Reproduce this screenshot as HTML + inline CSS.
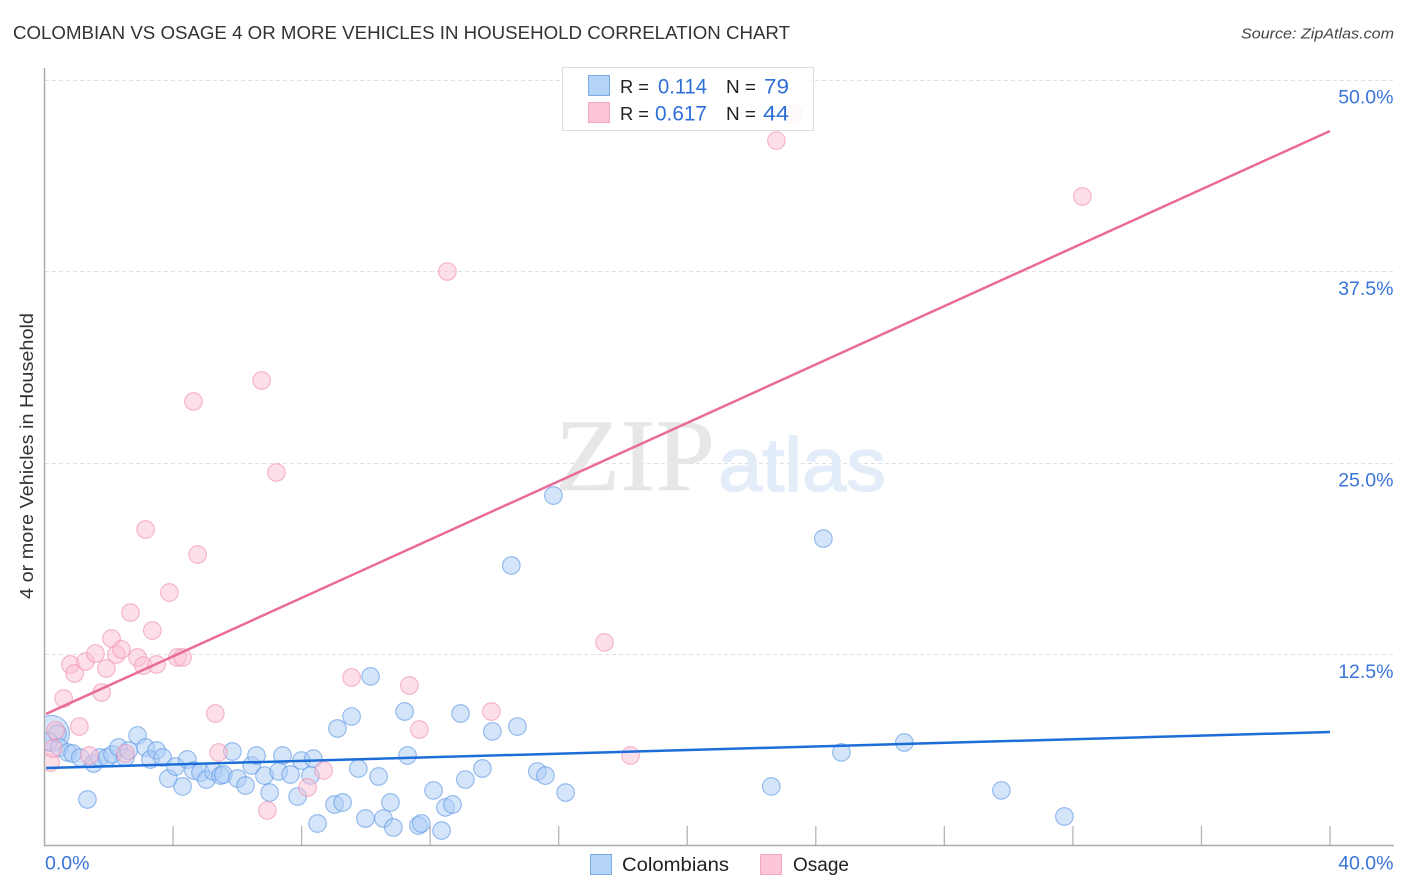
<!DOCTYPE html>
<html>
<head>
<meta charset="utf-8">
<title>Colombian vs Osage chart</title>
<style>
html,body{margin:0;padding:0;background:#fff;}
svg{display:block;font-family:"Liberation Sans",sans-serif;}
</style>
</head>
<body>
<svg id="chart" width="1406" height="892" viewBox="0 0 1406 892">
  <defs><clipPath id="plot-clip"><rect x="45" y="60" width="1350" height="786"/></clipPath></defs>
  <text x="13" y="39" font-size="18.5" fill="#333" textLength="777" lengthAdjust="spacingAndGlyphs">COLOMBIAN VS OSAGE 4 OR MORE VEHICLES IN HOUSEHOLD CORRELATION CHART</text>
  <text x="1241" y="38.500" font-size="15" font-style="italic" fill="#444" textLength="153" lengthAdjust="spacingAndGlyphs">Source: ZipAtlas.com</text>
  <g id="grid"></g>
  <g>
    <text x="555" y="490" font-family="'Liberation Serif',serif" font-size="103" fill="#e7e7e7" stroke="#e7e7e7" stroke-width="0.6" textLength="160" lengthAdjust="spacingAndGlyphs">ZIP</text>
    <text x="718" y="491" font-size="76" fill="#e3edf9" stroke="#e3edf9" stroke-width="1.5" textLength="168" lengthAdjust="spacingAndGlyphs">atlas</text>
  </g>
  <g id="xticks"></g>
  <line x1="44.500" y1="68" x2="44.500" y2="846" stroke="#aaa" stroke-width="1.500"/>
  <line x1="44" y1="845.500" x2="1394" y2="845.500" stroke="#aaa" stroke-width="1.500"/>
  <g id="points-colombian" clip-path="url(#plot-clip)"></g>
  <g id="points-osage" clip-path="url(#plot-clip)"></g>
  <g id="trends"></g>
  <g id="ylabels"></g>
  <g id="xlabels"></g>
  <text transform="translate(33,456) rotate(-90)" text-anchor="middle" font-size="18.500" fill="#333" textLength="286" lengthAdjust="spacingAndGlyphs">4 or more Vehicles in Household</text>

  <g>
    <rect x="562.500" y="67.500" width="251" height="63" fill="#fff" fill-opacity="0.85" stroke="#ddd" stroke-width="1"/>
    <rect x="588.500" y="75.500" width="21" height="20" fill="#b5d2f7" stroke="#7fabe3" stroke-width="1"/>
    <rect x="588.500" y="102.500" width="21" height="20" fill="#fcc5d8" stroke="#f1a7c0" stroke-width="1"/>
    <g font-size="18.500" fill="#222">
      <text x="620" y="93" textLength="29" lengthAdjust="spacingAndGlyphs">R =</text>
      <text x="726" y="93" textLength="30" lengthAdjust="spacingAndGlyphs">N =</text>
      <text x="620" y="120" textLength="29" lengthAdjust="spacingAndGlyphs">R =</text>
      <text x="726" y="120" textLength="30" lengthAdjust="spacingAndGlyphs">N =</text>
    </g>
    <g font-size="21" fill="#2f6fd8">
      <text x="658" y="93.500" textLength="49" lengthAdjust="spacingAndGlyphs">0.114</text>
      <text x="764" y="93.500" textLength="25" lengthAdjust="spacingAndGlyphs">79</text>
      <text x="655" y="120.500" textLength="52" lengthAdjust="spacingAndGlyphs">0.617</text>
      <text x="763" y="120.500" textLength="26" lengthAdjust="spacingAndGlyphs">44</text>
    </g>
  </g>

  <g>
    <rect x="590.500" y="854.500" width="21" height="20" fill="#b5d2f7" stroke="#7fabe3" stroke-width="1"/>
    <text x="622" y="871" font-size="19" fill="#222" textLength="107" lengthAdjust="spacingAndGlyphs">Colombians</text>
    <rect x="760.500" y="854.500" width="21" height="20" fill="#fcc5d8" stroke="#f1a7c0" stroke-width="1"/>
    <text x="793" y="871" font-size="19" fill="#222" textLength="56" lengthAdjust="spacingAndGlyphs">Osage</text>
  </g>
</svg>
<script>
const colombianX = [0.20,0.39,0.11,0.45,0.70,0.86,1.10,1.51,1.32,1.70,1.94,2.10,2.29,2.50,2.60,2.88,3.13,3.28,3.47,3.66,3.84,4.06,4.28,4.43,4.62,4.84,5.02,5.24,5.46,5.55,5.83,5.99,6.24,6.43,6.58,6.83,6.99,7.39,7.27,7.64,7.86,7.98,8.35,8.26,8.48,9.01,9.26,9.10,9.54,9.75,9.97,10.13,10.38,10.53,10.75,10.84,11.19,11.28,11.62,11.71,12.09,12.34,12.46,12.68,12.93,13.08,13.61,13.92,14.51,14.70,15.32,15.57,15.82,16.20,22.60,24.22,24.78,26.74,29.76,31.72];
const colombianY = [7.38,7.38,6.85,6.46,6.14,6.07,5.81,5.42,3.07,5.81,5.81,6.01,6.46,5.81,6.27,7.25,6.46,5.68,6.27,5.81,4.44,5.22,3.92,5.68,4.96,4.83,4.37,4.90,4.63,4.70,6.20,4.44,3.98,5.29,5.94,4.63,3.52,5.94,4.90,4.70,3.26,5.61,5.74,4.63,1.50,2.74,2.87,7.70,8.49,5.09,1.83,11.10,4.57,1.83,2.87,1.24,8.81,5.94,1.37,1.50,3.66,1.04,2.55,2.74,8.68,4.37,5.09,7.51,18.34,7.83,4.90,4.63,22.91,3.52,3.92,20.10,6.14,6.79,3.66,1.96];
const osageX = [0.79,0.92,1.26,1.57,1.91,2.07,2.22,2.38,2.88,3.06,3.47,4.12,4.28,0.58,1.76,5.30,1.07,0.33,0.17,0.26,1.38,2.50,5.40,8.67,8.17,6.92,2.66,3.13,3.34,3.87,4.75,7.20,4.62,6.74,12.52,22.76,23.29,32.28,17.41,9.54,11.34,11.65,13.89,18.22];
const osageY = [11.88,11.29,12.08,12.60,11.62,13.58,12.53,12.86,12.34,11.81,11.88,12.34,12.34,9.66,10.05,8.68,7.83,7.57,5.48,6.40,5.94,6.07,6.14,4.96,3.85,2.35,15.27,20.69,14.10,16.58,19.06,24.41,29.05,30.42,37.53,46.08,47.78,42.43,13.32,11.03,10.51,7.64,8.81,5.94];
const colombianTrendX = [0.05,40];
const colombianTrendY = [5.09,7.44];
const osageTrendX = [0.05,40];
const osageTrendY = [8.62,46.67];
const xTickValues = [4,8,12,16,20,24,28,32,36,40];
const yTickValues = [12.5,25,37.5,50];
const yTickLabels = ["12.5%","25.0%","37.5%","50.0%"];
const xEndValues = [0,40];
const xEndLabels = ["0.0%","40.0%"];

const NS = "http://www.w3.org/2000/svg";
const xScale = v => 44.5 + v * (1330 - 44.5) / 40;
const yScale = v => 846 - v * (846 - 80) / 50;

function make(tag, attrs, parent) {
  const el = document.createElementNS(NS, tag);
  for (const k in attrs) el.setAttribute(k, attrs[k]);
  parent.appendChild(el);
  return el;
}

const gridG = document.getElementById("grid");
yTickValues.forEach(function (v) {
  const el = make("line", {x1: 45, x2: 1393, y1: Math.floor(yScale(v)) + 0.5, y2: Math.floor(yScale(v)) + 0.5, stroke: "#e0e0e0", "stroke-width": 1, "stroke-dasharray": "4 3"}, gridG);
  
  
});

const xTickG = document.getElementById("xticks");
xTickValues.forEach(function (v) {
  const el = make("line", {x1: xScale(v), x2: xScale(v), y1: 826, y2: 846, stroke: "#b5b5b5", "stroke-width": 1.3}, xTickG);
  
  
});

const yLabelG = document.getElementById("ylabels");
yTickValues.forEach(function (v, i) {
  const el = make("text", {x: 1393.5, y: yScale(v) + 23.5, "text-anchor": "end", "font-size": 19.5, fill: "#3a74d8"}, yLabelG);
  el.textContent = yTickLabels[i];
  
  
});

const xLabelG = document.getElementById("xlabels");
xEndValues.forEach(function (v, i) {
  const el = make("text", i === 0
    ? {x: xScale(v) + 0.5, y: 869.5, "font-size": 19.5, fill: "#3a74d8"}
    : {x: 1393.5, y: 869.5, "text-anchor": "end", "font-size": 19.5, fill: "#3a74d8"}, xLabelG);
  el.textContent = xEndLabels[i];
  
  
});

const blueG = document.getElementById("points-colombian");
colombianX.forEach(function (v, i) {
  const el = make("circle", {cx: xScale(v) + 0.5, cy: yScale(colombianY[i]) + 0.5, r: i === 0 ? 18 : 8.8, fill: "#a9cbf5", "fill-opacity": 0.5, stroke: "#5c96e3", "stroke-opacity": 0.65, "stroke-width": 1.1}, blueG);
  
  
});

const pinkG = document.getElementById("points-osage");
osageX.forEach(function (v, i) {
  const el = make("circle", {cx: xScale(v) + 0.5, cy: yScale(osageY[i]) + 0.5, r: 8.8, fill: "#fbc0d3", "fill-opacity": 0.5, stroke: "#ef8fb0", "stroke-opacity": 0.65, "stroke-width": 1.1}, pinkG);
  
  
});

const trendG = document.getElementById("trends");
const trendBlue = make("line", {x1: xScale(colombianTrendX[0]), y1: yScale(colombianTrendY[0]), x2: xScale(colombianTrendX[1]), y2: yScale(colombianTrendY[1]), stroke: "#1c6dd8", "stroke-width": 2.5}, trendG);


const trendPink = make("line", {x1: xScale(osageTrendX[0]), y1: yScale(osageTrendY[0]), x2: xScale(osageTrendX[1]), y2: yScale(osageTrendY[1]), stroke: "#e96b9b", "stroke-width": 2.5}, trendG);


</script>
</body>
</html>
